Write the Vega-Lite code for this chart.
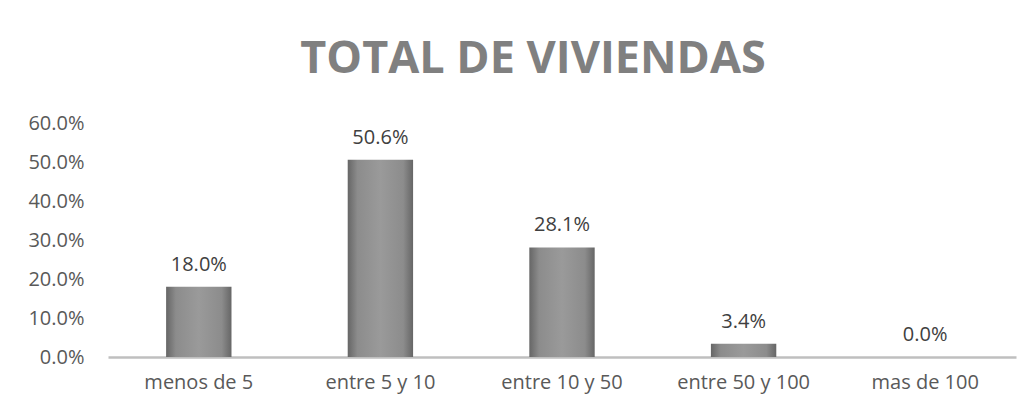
{
  "$schema": "https://vega.github.io/schema/vega-lite/v6.json",
  "width": 908,
  "height": 234,
  "autosize": {"type": "none"},
  "padding": {"left": 108, "top": 123, "right": 12, "bottom": 60},
  "background": "white",
  "title": {
    "text": "TOTAL DE VIVIENDAS",
    "font": "Open Sans",
    "fontSize": 45,
    "fontWeight": "bold",
    "color": "#808080",
    "anchor": "middle",
    "frame": "group",
    "dx": -29,
    "dy": 53,
    "baseline": "alphabetic",
    "offset": 48
  },
  "data": {
    "values": [
      {"categoria": "menos de 5", "valor": 0.180},
      {"categoria": "entre 5 y 10", "valor": 0.506},
      {"categoria": "entre 10 y 50", "valor": 0.281},
      {"categoria": "entre 50 y 100", "valor": 0.034},
      {"categoria": "mas de 100", "valor": 0.0}
    ]
  },
  "encoding": {
    "x": {
      "field": "categoria",
      "type": "nominal",
      "sort": null,
      "scale": {"paddingInner": 0.64, "paddingOuter": 0.32},
      "axis": {
        "title": null,
        "labelAngle": 0,
        "labelFont": "Open Sans",
        "labelFontSize": 20,
        "labelColor": "#595959",
        "labelPadding": 15,
        "ticks": false,
        "domainColor": "#bfbfbf",
        "domainWidth": 2.5
      }
    },
    "y": {
      "field": "valor",
      "type": "quantitative",
      "scale": {"domain": [0, 0.6], "nice": false},
      "axis": {
        "title": null,
        "format": ".1%",
        "values": [0, 0.1, 0.2, 0.3, 0.4, 0.5, 0.6],
        "labelFont": "Open Sans",
        "labelFontSize": 20,
        "labelColor": "#595959",
        "labelPadding": 24,
        "ticks": false,
        "domain": false,
        "grid": false
      }
    }
  },
  "layer": [
    {
      "mark": {
        "type": "bar",
        "color": {
          "gradient": "linear",
          "x1": 0, "x2": 1, "y1": 0, "y2": 0,
          "stops": [
            {"offset": 0, "color": "#666666"},
            {"offset": 0.15, "color": "#8c8c8c"},
            {"offset": 0.5, "color": "#9a9a9a"},
            {"offset": 0.85, "color": "#8c8c8c"},
            {"offset": 1, "color": "#666666"}
          ]
        }
      }
    },
    {
      "mark": {
        "type": "text",
        "baseline": "alphabetic",
        "dy": -16,
        "font": "Open Sans",
        "fontSize": 20,
        "color": "#404040"
      },
      "encoding": {
        "text": {"field": "valor", "type": "quantitative", "format": ".1%"}
      }
    }
  ],
  "config": {"view": {"stroke": null}}
}
